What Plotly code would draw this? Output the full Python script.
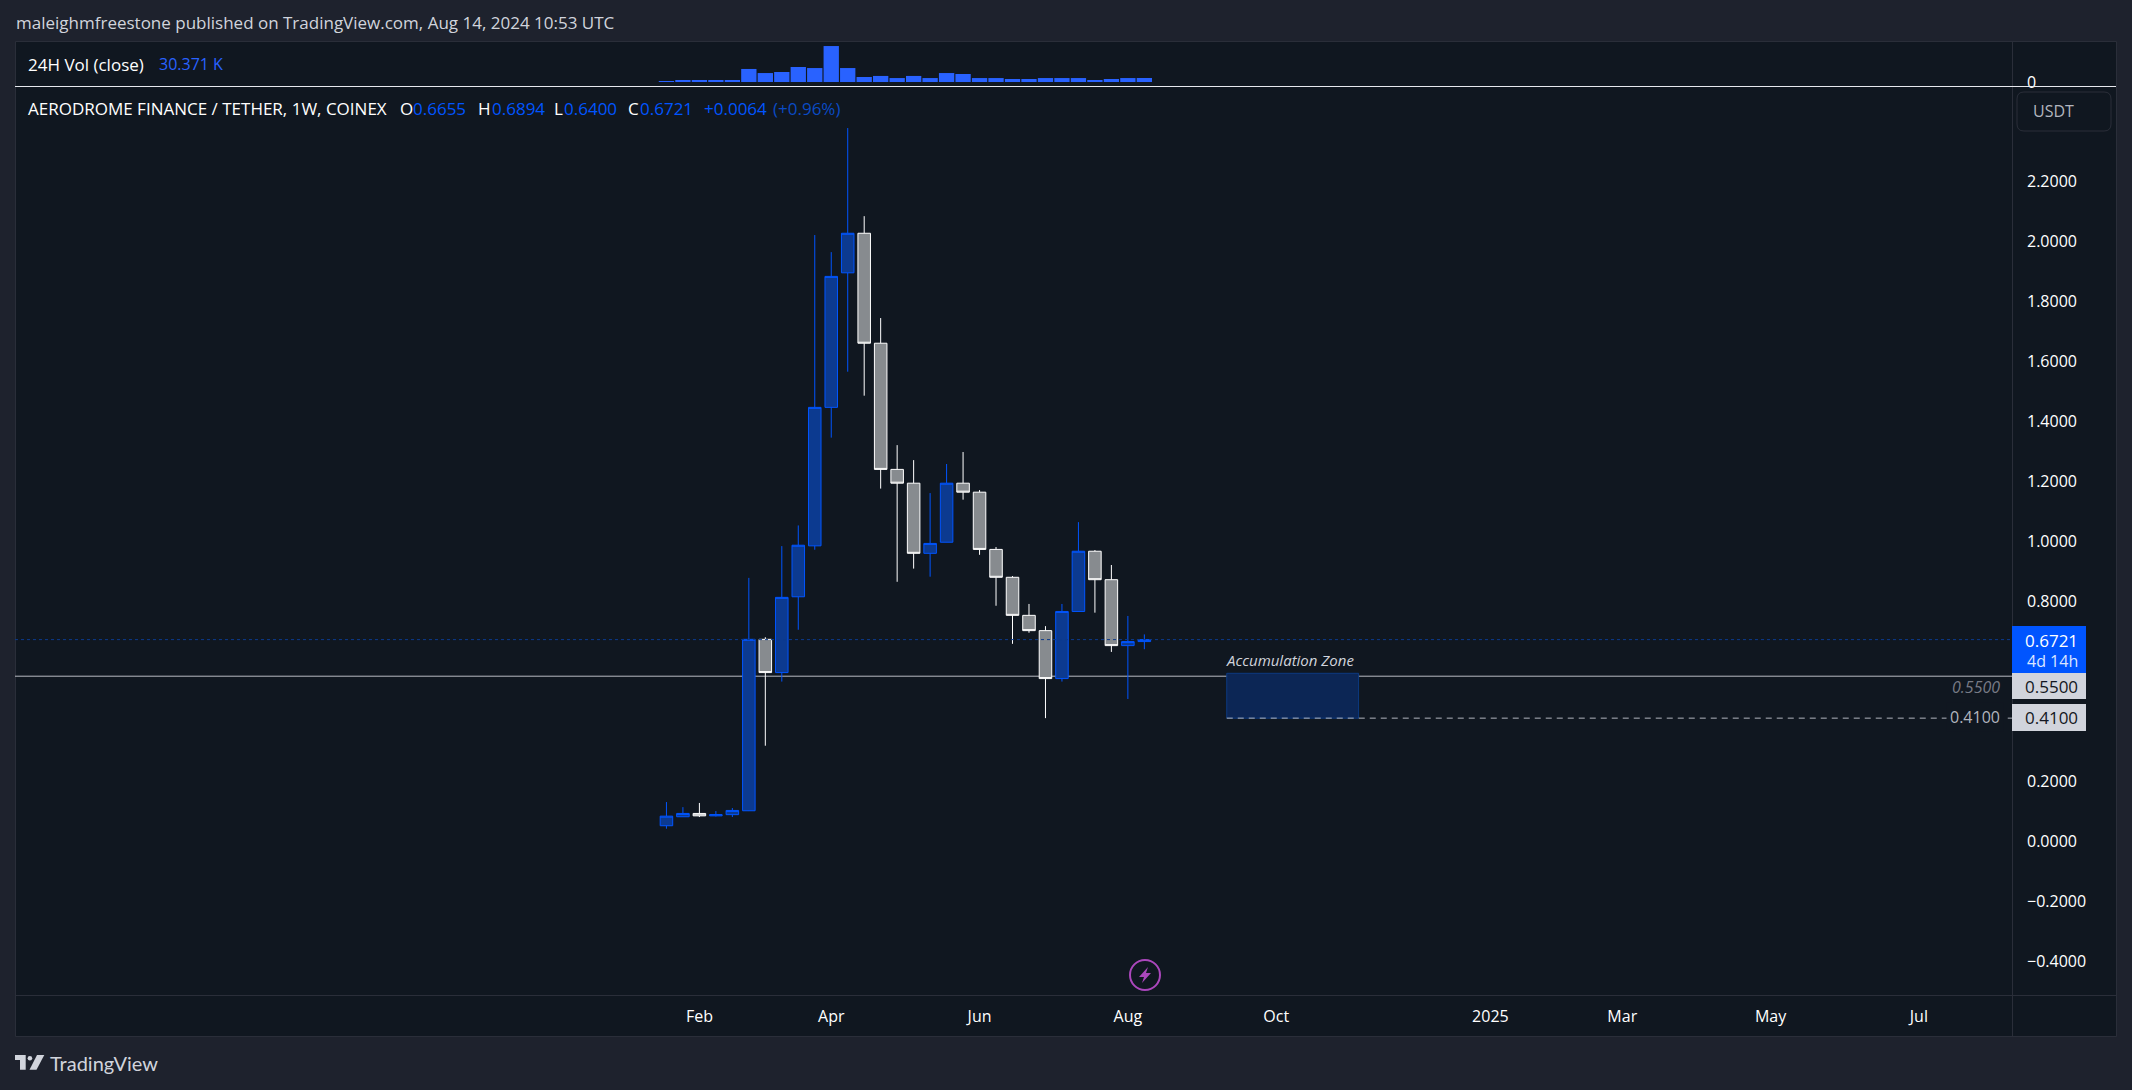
import pandas as pd
import plotly.graph_objects as go

# weekly candles, AERO / USDT
dates = pd.date_range("2024-01-22", periods=30, freq="7D")
opens = [0.051, 0.081, 0.092, 0.084, 0.088, 0.101, 0.673, 0.562, 0.815, 0.985,
         1.447, 1.896, 2.028, 1.661, 1.240, 1.194, 0.960, 0.997, 1.194, 1.164,
         0.973, 0.880, 0.753, 0.702, 0.542, 0.766, 0.967, 0.872, 0.652, 0.6655]
highs = [0.130, 0.113, 0.127, 0.100, 0.110, 0.878, 0.680, 0.984, 1.053, 2.022,
         1.965, 2.379, 2.085, 1.745, 1.321, 1.271, 1.161, 1.258, 1.298, 1.171,
         0.981, 0.884, 0.791, 0.717, 0.791, 1.064, 0.971, 0.921, 0.751, 0.6894]
lows = [0.041, 0.081, 0.080, 0.082, 0.080, 0.100, 0.318, 0.532, 0.705, 0.972,
        1.346, 1.566, 1.486, 1.176, 0.865, 0.909, 0.882, 0.997, 1.139, 0.955,
        0.785, 0.658, 0.695, 0.410, 0.532, 0.766, 0.762, 0.631, 0.474, 0.6400]
closes = [0.083, 0.092, 0.084, 0.088, 0.102, 0.673, 0.562, 0.813, 0.987, 1.447,
          1.884, 2.028, 1.661, 1.240, 1.194, 0.960, 0.993, 1.194, 1.164, 0.973,
          0.880, 0.753, 0.702, 0.542, 0.766, 0.967, 0.872, 0.652, 0.6655, 0.6721]
volume = [7.6, 15, 15, 15, 15, 99, 68, 76, 114, 106,
          273, 106, 38, 46, 30, 46, 30, 68, 61, 30,
          30, 23, 23, 30, 30, 30, 15, 23, 30, 30.371]

price_ticks = [-0.4, -0.2, 0.0, 0.2, 0.4, 0.6, 0.8, 1.0, 1.2, 1.4, 1.6, 1.8, 2.0, 2.2]
time_ticks = ["2024-02-05", "2024-04-01", "2024-06-03", "2024-08-05", "2024-10-07",
              "2025-01-06", "2025-03-03", "2025-05-05", "2025-07-07"]
time_labels = ["Feb", "Apr", "Jun", "Aug", "Oct", "2025", "Mar", "May", "Jul"]

zone_start, zone_end = "2024-09-16", "2024-11-11"
zone_top, zone_bottom = 0.5596, 0.41
level_high, level_low = 0.55, 0.41
last_close = closes[-1]

W, H = 2132, 1090
FONT = "Open Sans"
OUTER = "#1e222d"
PANEL = "#101720"
EDGE = "#2a2e39"
BLUE = "#0055ff"
BLUE_FILL = "#0c3a90"
GRAY_FILL = "#878b8f"
TEXT = "#d1d4dc"


def xp(px):
    return px / W


def yp(py):
    return 1 - py / H


fig = go.Figure()

fig.add_trace(go.Candlestick(
    x=dates, open=opens, high=highs, low=lows, close=closes,
    increasing=dict(line=dict(color=BLUE, width=1), fillcolor=BLUE_FILL),
    decreasing=dict(line=dict(color="#ffffff", width=1), fillcolor=GRAY_FILL),
    whiskerwidth=0, showlegend=False, xaxis="x", yaxis="y",
))
fig.add_trace(go.Bar(
    x=dates, y=volume, marker=dict(color="#2962ff", line=dict(width=0)),
    showlegend=False, xaxis="x2", yaxis="y2",
))

shapes = []


def box(x0, y0, x1, y1, fill, line=None, layer="above"):
    shapes.append(dict(type="rect", xref="paper", yref="paper", x0=xp(x0), x1=xp(x1),
                       y0=yp(y0), y1=yp(y1), fillcolor=fill, layer=layer,
                       line=dict(color=line or fill, width=1 if line else 0)))


def seg(x0, y0, x1, y1, color, width=1, dash="solid", layer="above"):
    shapes.append(dict(type="line", xref="paper", yref="paper", x0=xp(x0), x1=xp(x1),
                       y0=yp(y0), y1=yp(y1), layer=layer,
                       line=dict(color=color, width=width, dash=dash)))


def rounded(x0, y0, x1, y1, r, fill, line=None):
    a, b, c, d = xp(x0), xp(x1), yp(y0), yp(y1)
    rx, ry = r / W, r / H
    path = (f"M{a + rx},{c} L{b - rx},{c} Q{b},{c} {b},{c - ry} L{b},{d + ry} Q{b},{d} {b - rx},{d} "
            f"L{a + rx},{d} Q{a},{d} {a},{d + ry} L{a},{c - ry} Q{a},{c} {a + rx},{c} Z")
    shapes.append(dict(type="path", xref="paper", yref="paper", path=path, fillcolor=fill,
                       line=dict(color=line or fill, width=1 if line else 0)))


def poly(points, fill):
    path = "M" + " L".join(f"{xp(x)},{yp(y)}" for x, y in points) + " Z"
    shapes.append(dict(type="path", xref="paper", yref="paper", path=path,
                       fillcolor=fill, line=dict(width=0)))


# panel and frame
box(15.5, 41.5, 2116.5, 1036.5, PANEL, EDGE, layer="below")
seg(2012.5, 41, 2012.5, 1037, EDGE)
seg(15, 995.5, 2116, 995.5, EDGE)
seg(15, 86.5, 2116, 86.5, "#e6e8ee", width=1)

# price levels
shapes.append(dict(type="line", xref="paper", yref="y", x0=xp(15), x1=xp(2012),
                   y0=level_high, y1=level_high, layer="below",
                   line=dict(color="#b8bbc3", width=1)))
shapes.append(dict(type="line", xref="paper", yref="y", x0=xp(15), x1=xp(2012),
                   y0=last_close, y1=last_close,
                   line=dict(color="#0c3a8c", width=1, dash="dot")))
shapes.append(dict(type="rect", xref="x", yref="y", x0=zone_start, x1=zone_end,
                   y0=zone_bottom, y1=zone_top, fillcolor="#0c2655",
                   line=dict(color="#0d3a80", width=1)))
shapes.append(dict(type="line", xref="x", yref="y", x0=zone_start, x1=pd.Timestamp("2025-08-16"),
                   y0=level_low, y1=level_low, line=dict(color="#b2b5be", width=1, dash="6px,5px")))

# price axis labels
rounded(2017, 92, 2111, 131, 7, PANEL, EDGE)
box(2012, 626, 2086, 673, BLUE)
box(2012, 673, 2086, 699, TEXT)
box(2012, 704, 2086, 731, TEXT)

# event icon
shapes.append(dict(type="circle", xref="paper", yref="paper", x0=xp(1130), x1=xp(1160),
                   y0=yp(960), y1=yp(990), line=dict(color="#ab47bc", width=2)))
poly([(1148, 967), (1139, 977), (1144, 977), (1142, 983), (1151, 973), (1146, 973)], "#ab47bc")

# TradingView logo
poly([(15, 1055), (25.7, 1055), (25.7, 1069.7), (20, 1069.7), (20, 1060), (15, 1060)], TEXT)
shapes.append(dict(type="circle", xref="paper", yref="paper", x0=xp(27.6), x1=xp(32.2),
                   y0=yp(1056), y1=yp(1060.6), fillcolor=TEXT, line=dict(width=0)))
poly([(37, 1055), (44.3, 1055), (36.5, 1069.7), (29.5, 1069.7)], TEXT)

texts = []


def label(px, py, text, color=TEXT, size=17, anchor="left", bg=None, italic=False, font=FONT, pad=0):
    if italic:
        text = f"<i>{text}</i>"
    texts.append(dict(xref="paper", yref="paper", x=xp(px), y=yp(py), text=text,
                      showarrow=False, xanchor=anchor, yanchor="middle", borderpad=pad,
                      bgcolor=bg, font=dict(family=font, size=size, color=color)))


label(15, 22, "maleighmfreestone published on TradingView.com, Aug 14, 2024 10:53 UTC")
label(27, 64, "24H Vol (close)", "#ffffff")
label(158, 64, "30.371 K", "#2962ff", size=16)
label(27, 109, "AERODROME FINANCE / TETHER, 1W, COINEX", "#ffffff")
for px, key in [(399, "O"), (477, "H"), (553, "L"), (627, "C")]:
    label(px, 109, key, "#ffffff")
label(412, 109, f"{opens[-1]:.4f}", BLUE)
label(491, 109, f"{highs[-1]:.4f}", BLUE)
label(563, 109, f"{lows[-1]:.4f}", BLUE)
label(639, 109, f"{closes[-1]:.4f}", BLUE)
label(703, 109, "+0.0064", BLUE)
label(772, 109, "(+0.96%)", "#0a4bc4")

label(2053, 111, "USDT", "#b2b5be", size=16, anchor="center")
label(2079, 640, f"{last_close:.4f}", "#ffffff", anchor="right")
label(2079, 661, "4d 14h", "#dce6ff", size=16, anchor="right")
label(2079, 686, f"{level_high:.4f}", "#131722", anchor="right")
label(2079, 717, f"{level_low:.4f}", "#131722", anchor="right")
label(2001, 687, f"{level_high:.4f}", "#787b86", anchor="right", size=16, italic=True)
label(2004, 717, f"{level_low:.4f}", "#b2b5be", anchor="right", size=16, bg=PANEL, pad=3)
label(1225, 660, "Accumulation Zone", TEXT, size=15, italic=True)
label(49, 1063, "TradingView", TEXT, size=20, font="Lato")

x_range = [dates[0] - pd.Timedelta(weeks=39.53), dates[0] + pd.Timedelta(weeks=81.65)]

fig.update_layout(
    width=W, height=H, margin=dict(l=0, r=0, t=0, b=0),
    paper_bgcolor=OUTER, plot_bgcolor="rgba(0,0,0,0)",
    font=dict(family=FONT, size=16, color="#ffffff"),
    boxmode="overlay", boxgap=0.24, boxgroupgap=0, bargap=0.07, shapes=shapes, annotations=texts,
    xaxis=dict(domain=[xp(15), xp(2012)], range=x_range, anchor="y", rangeslider=dict(visible=False),
               tickmode="array", tickvals=time_ticks, ticktext=time_labels, ticks="", automargin=False,
               showgrid=False, zeroline=False, showline=False, ticklabelstandoff=10,
               tickfont=dict(family=FONT, size=16, color="#ffffff")),
    xaxis2=dict(domain=[xp(15), xp(2012)], matches="x", anchor="y2", showticklabels=False, automargin=False,
                ticks="", showgrid=False, zeroline=False, showline=False),
    yaxis=dict(domain=[yp(995), yp(87)], range=[-0.5138, 2.516], side="right", anchor="x",
               tickmode="array", tickvals=price_ticks, tickformat=".4f", ticks="", automargin=False,
               showgrid=False, zeroline=False, showline=False, ticklabelstandoff=14,
               tickfont=dict(family=FONT, size=16, color="#ffffff")),
    yaxis2=dict(domain=[yp(86), yp(42)], range=[-30.371, 303.7], side="right", anchor="x2",
                tickmode="array", tickvals=[0], ticktext=["0"], ticks="", automargin=False,
                showgrid=False, zeroline=False, showline=False, ticklabelstandoff=14,
                tickfont=dict(family=FONT, size=16, color="#ffffff")),
)

fig.write_html("out.html", config={"displayModeBar": False},
               post_script="document.body.style.margin='0';")
